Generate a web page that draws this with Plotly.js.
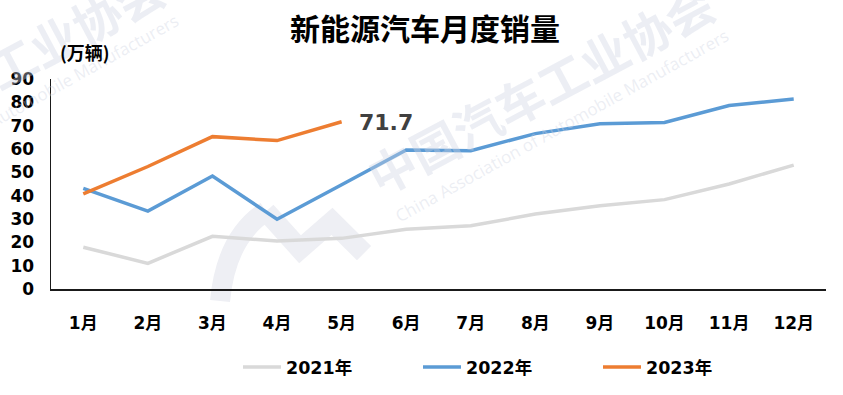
<!DOCTYPE html>
<html>
<head>
<meta charset="utf-8">
<script src="https://cdn.plot.ly/plotly-3.0.1.min.js"></script>
<style>html,body{margin:0;padding:0;background:#fff;}#chart{width:843px;height:395px;}</style>
</head>
<body>
<div id="chart"></div>
<script>
const months = ['1月','2月','3月','4月','5月','6月','7月','8月','9月','10月','11月','12月'];
const sales2021 = [17.9, 11.0, 22.6, 20.6, 21.7, 25.6, 27.1, 32.1, 35.7, 38.3, 45.0, 53.1];
const sales2022 = [43.1, 33.4, 48.4, 29.9, 44.7, 59.6, 59.3, 66.6, 70.8, 71.4, 78.6, 81.4];
const sales2023 = [40.8, 52.5, 65.3, 63.6, 71.7];
const seriesNames = ['2021年', '2022年', '2023年'];
const lastLabel = '71.7';

const W = 843, H = 395;
const M = {l: 51, r: 17, t: 79, b: 105};
const PW = W - M.l - M.r, PH = H - M.t - M.b;
const px = x => (x - M.l) / PW;
const py = y => (H - M.b - y) / PH;

const FONT = '"Noto Sans CJK SC", "Noto Sans", sans-serif';
const NUMFONT = '"DejaVu Sans", "Noto Sans CJK SC", sans-serif';
const wmColor = 'rgba(205,210,225,0.38)';

const traces = [
  {x: months, y: sales2021, name: seriesNames[0], type: 'scatter', mode: 'lines',
   line: {color: '#D9D9D9', width: 3.5}},
  {x: months, y: sales2022, name: seriesNames[1], type: 'scatter', mode: 'lines',
   line: {color: '#5B9BD5', width: 3.5}},
  {x: months.slice(0, sales2023.length), y: sales2023, name: seriesNames[2], type: 'scatter', mode: 'lines',
   line: {color: '#ED7D31', width: 3.5}}
];

function wm(dx, dy) {
  return [
    {xref: 'paper', yref: 'paper', x: px(540 + dx), y: py(88 + dy), xanchor: 'center', yanchor: 'middle',
     text: '中国汽车工业协会', showarrow: false, textangle: -28,
     font: {family: FONT, size: 48, color: wmColor, weight: 'bold'}},
    {xref: 'paper', yref: 'paper', x: px(562 + dx), y: py(126 + dy), xanchor: 'center', yanchor: 'middle',
     text: 'China Association of Automobile Manufacturers', showarrow: false, textangle: -29,
     font: {family: '"Open Sans", sans-serif', size: 17, color: wmColor}}
  ];
}

const lastIdx = sales2023.length - 1;
const annotations = [
  ...wm(0, 0),
  ...wm(-550, -15),
  {xref: 'paper', yref: 'paper', x: px(85), y: py(52), xanchor: 'center', yanchor: 'middle',
   text: '(万辆)', showarrow: false,
   font: {family: FONT, size: 18, color: '#000', weight: 'bold'}},
  {xref: 'x', yref: 'y', x: months[lastIdx], y: sales2023[lastIdx], text: lastLabel, showarrow: false,
   xanchor: 'left', yanchor: 'middle', xshift: 15, yshift: -1,
   font: {family: NUMFONT, size: 22, color: '#404040', weight: 'bold'}}
];

function ppath(pts) {
  return 'M ' + pts.map(p => px(p[0]).toFixed(4) + ',' + py(p[1]).toFixed(4)).join(' L ');
}
const logoC = 'M ' + px(220).toFixed(4) + ',' + py(302).toFixed(4) +
  ' Q ' + px(226).toFixed(4) + ',' + py(238).toFixed(4) + ' ' + px(266).toFixed(4) + ',' + py(212).toFixed(4);
const shapes = [
  {type: 'path', xref: 'paper', yref: 'paper', layer: 'below', path: logoC,
   line: {color: '#EEEFF4', width: 20}},
  {type: 'path', xref: 'paper', yref: 'paper', layer: 'below',
   path: ppath([[266, 212], [300, 250], [332, 222], [364, 254]]),
   line: {color: '#EEEFF4', width: 20}}
];

const layout = {
  width: W, height: H,
  margin: M,
  paper_bgcolor: '#fff', plot_bgcolor: 'rgba(0,0,0,0)',
  font: {family: FONT, color: '#000'},
  title: {text: '新能源汽车月度销量', x: 425 / W, xanchor: 'center', xref: 'container',
          y: 1 - 29 / H, yanchor: 'middle', yref: 'container',
          font: {family: FONT, size: 30, color: '#000', weight: 'bold'}},
  xaxis: {type: 'category', range: [-0.5, 11.5], showgrid: false, zeroline: false,
          showline: true, linecolor: '#1a1a1a', linewidth: 1.5, ticks: '',
          ticklabelstandoff: 18,
          tickfont: {family: NUMFONT, size: 17, color: '#000', weight: 'bold'}},
  yaxis: {range: [0, 90], dtick: 10, tick0: 0, showgrid: false, zeroline: false,
          showline: true, linecolor: '#1a1a1a', linewidth: 1.5, ticks: '',
          ticklabelstandoff: 12,
          tickfont: {family: NUMFONT, size: 17, color: '#000', weight: 'bold'}},
  showlegend: true,
  legend: {orientation: 'h', xref: 'paper', yref: 'paper', x: px(238), xanchor: 'left',
           y: py(367), yanchor: 'middle', itemwidth: 38, entrywidth: 127, entrywidthmode: 'pixels',
           font: {family: NUMFONT, size: 17.5, color: '#000', weight: 'bold'}, bgcolor: 'rgba(0,0,0,0)'},
  annotations: annotations,
  shapes: shapes
};

Plotly.newPlot('chart', traces, layout, {displayModeBar: false, staticPlot: true});
</script>
</body>
</html>
